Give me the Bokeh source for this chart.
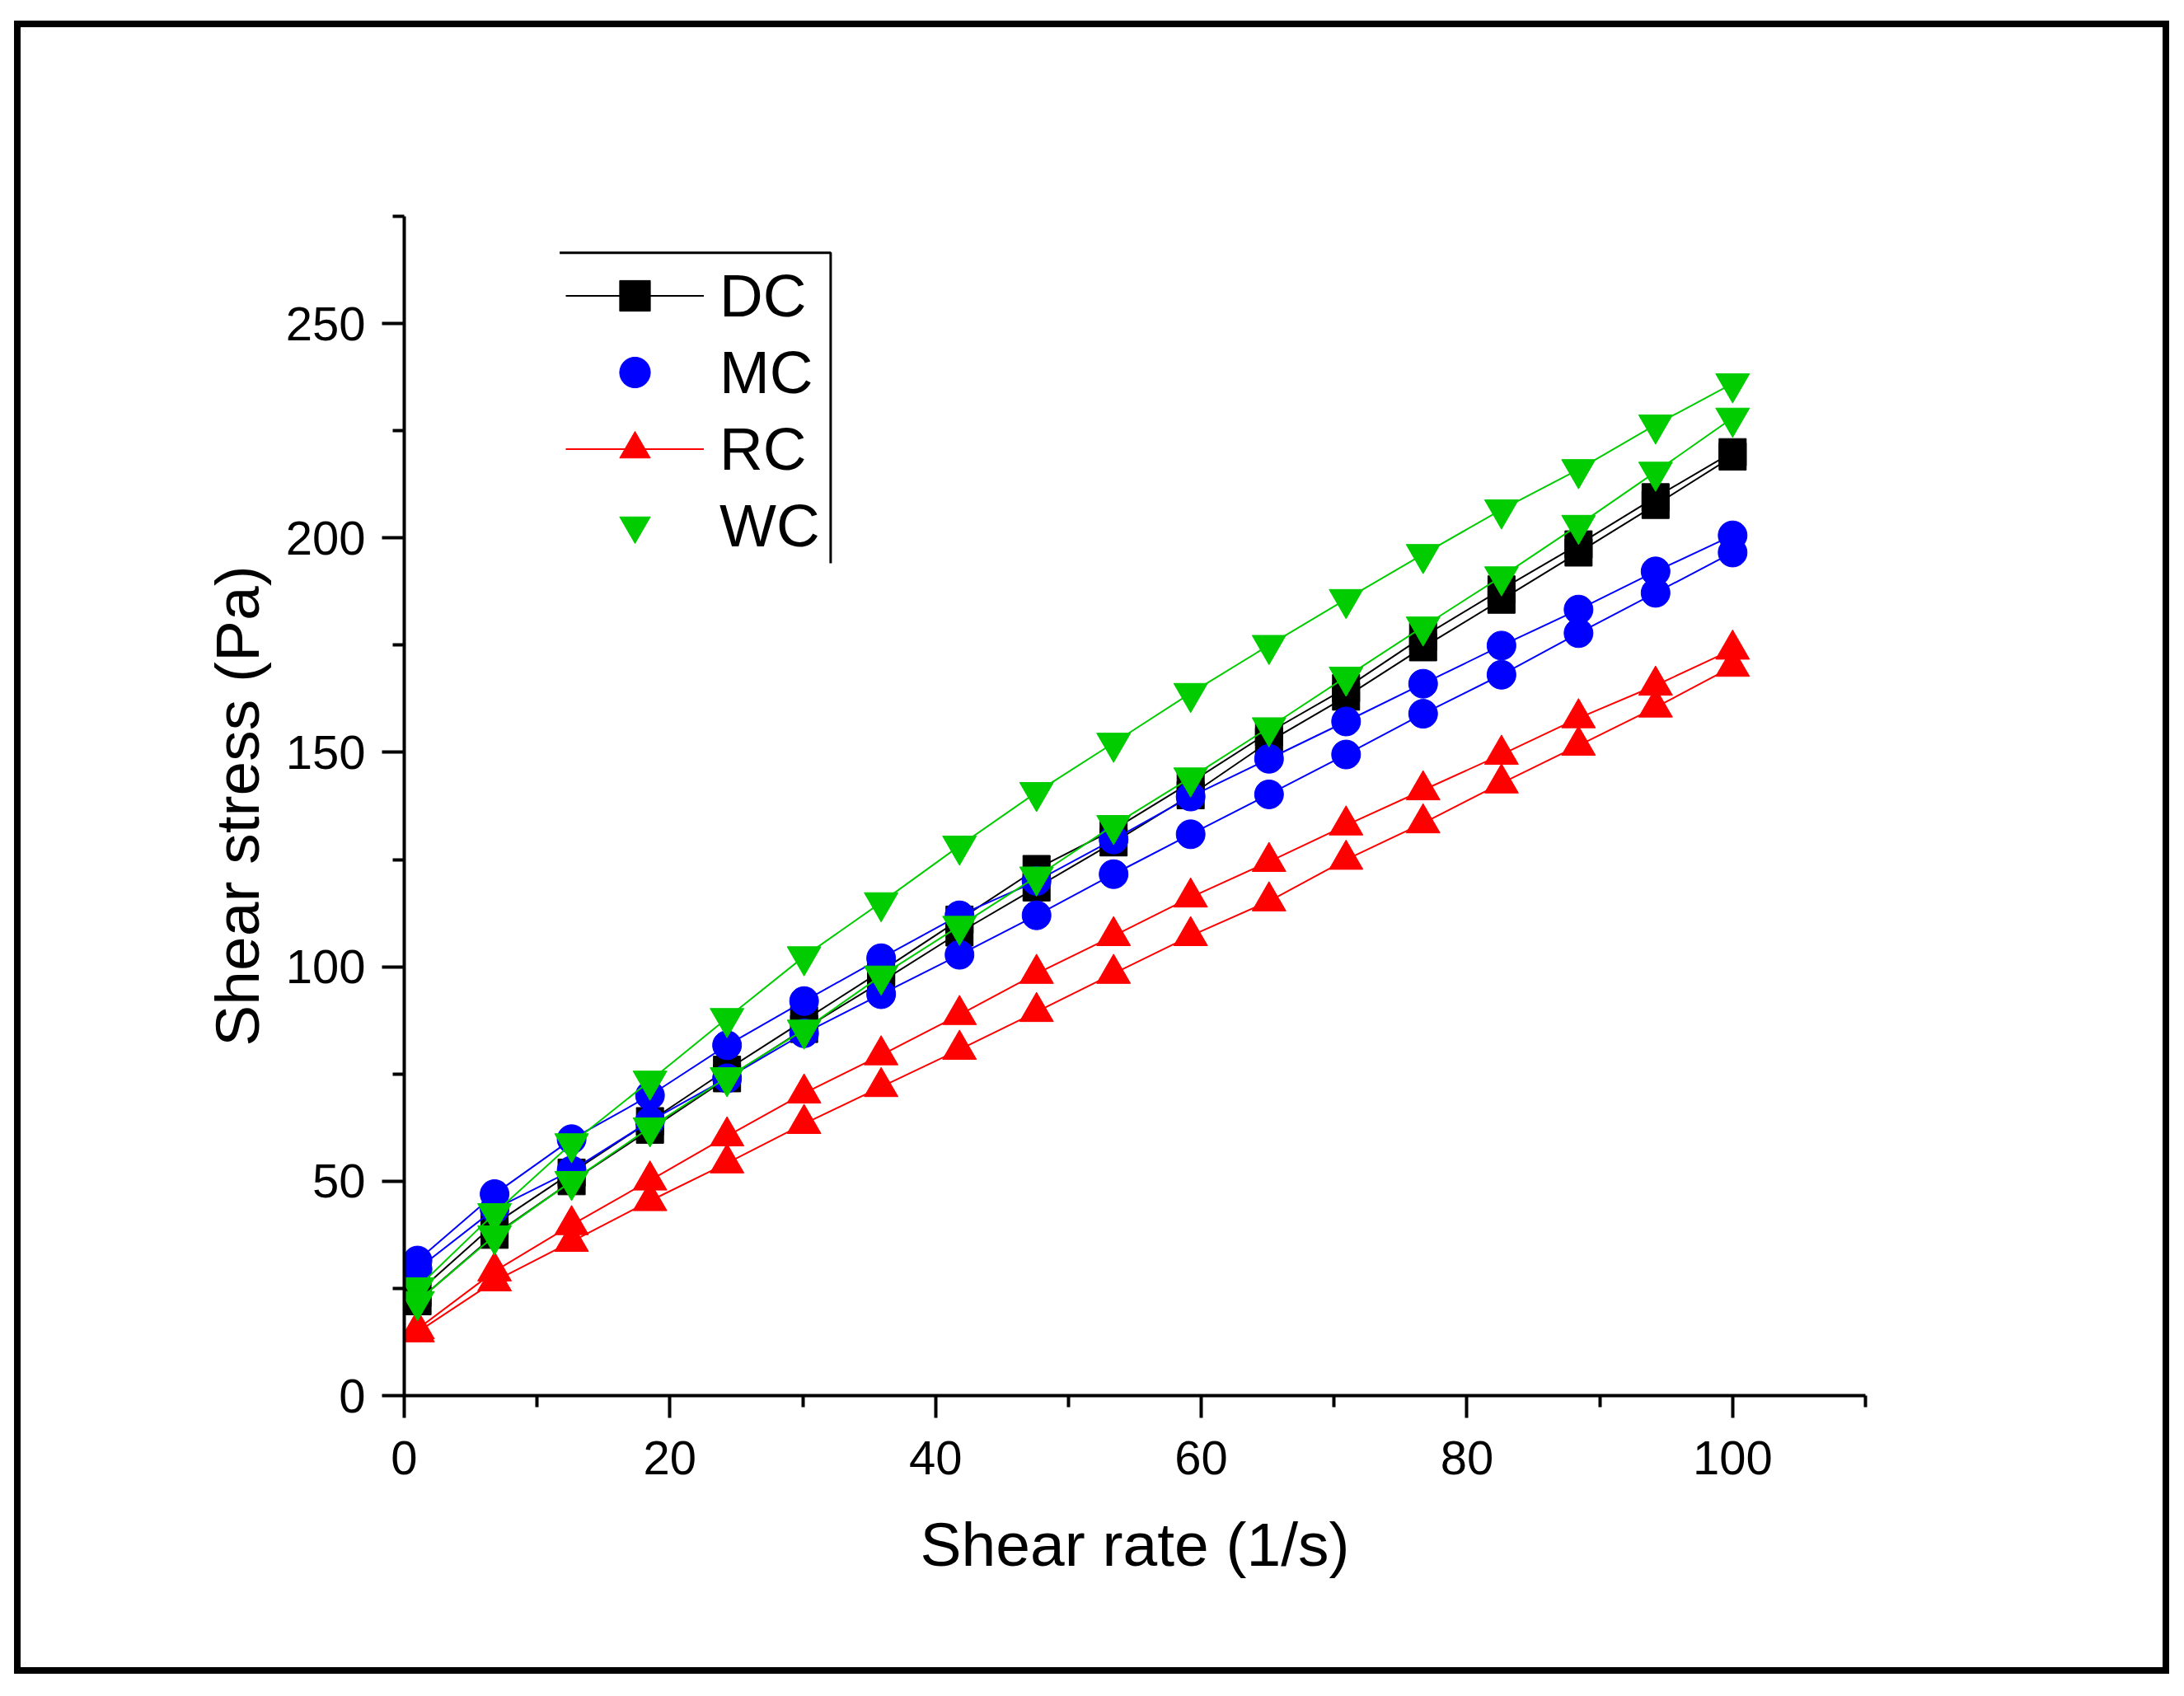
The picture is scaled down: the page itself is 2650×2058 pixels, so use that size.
from bokeh.plotting import figure
from bokeh.models import Range1d, FixedTicker, Legend, LegendItem
from bokeh.embed import file_html
from bokeh.resources import INLINE

# ---- data ----
shear_rate = [1, 6.8, 12.6, 18.5, 24.3, 30.1, 35.9, 41.8, 47.6, 53.4,
              59.2, 65.1, 70.9, 76.7, 82.6, 88.4, 94.2, 100]

dc_upper = [24, 40, 52, 64, 76, 87.5, 99, 111, 122.8, 132,
            143, 154.7, 165, 177, 188, 198.5, 209.5, 220]
dc_lower = [22, 37.5, 50, 62, 74, 85.5, 96.5, 108, 118.5, 129,
            140, 152.5, 163, 174.5, 185.6, 196.6, 207.7, 219]

mc_upper = [31.5, 47, 59.8, 70, 81.7, 92, 102, 112, 120, 129.7,
            139.7, 148.5, 157.2, 166, 174.9, 183.3, 192.2, 200.6]
mc_lower = [29.5, 43.5, 52.5, 64, 74, 84.5, 93.6, 102.8, 112, 121.6,
            130.9, 140.2, 149.5, 159, 168.1, 177.8, 187.2, 196.6]

rc_upper = [15.5, 29, 39.8, 50.2, 60.5, 70.5, 79.4, 88.8, 98.4, 107.2,
            116.2, 124.5, 133, 141.2, 149.5, 158, 165.6, 174]
rc_lower = [14.8, 26.7, 35.9, 45.4, 54.2, 63.4, 72, 80.7, 89.5, 98.4,
            107.2, 115.3, 125, 133.5, 142.8, 151.6, 160.5, 170]

wc_upper = [25.2, 42.5, 58.8, 73.4, 88, 102.4, 115, 128.2, 140.7, 152.2,
            163.8, 175, 185.7, 196.2, 206.6, 216, 226.4, 236]
wc_lower = [22, 37.3, 50, 62.5, 74.2, 85.3, 97.9, 109.5, 121, 133,
            144.1, 155.8, 167.6, 179.3, 191, 203, 215.4, 228]

x_ticks = [0, 20, 40, 60, 80, 100]
x_minor = [10, 30, 50, 70, 90, 110]
y_ticks = [0, 50, 100, 150, 200, 250]
y_minor = [25, 75, 125, 175, 225, 275]

FONT = "Liberation Sans"

p = figure(width=2599, height=1990, output_backend="svg", toolbar_location=None,
           x_range=Range1d(0, 110), y_range=Range1d(0, 275),
           min_border_left=465, min_border_right=361,
           min_border_top=229, min_border_bottom=330)
p.margin = (33, 0, 0, 25)
p.styles = {"outline": "8px solid black", "outline-offset": "0px"}
p.background_fill_color = "white"
p.border_fill_color = "white"
p.outline_line_color = None
p.xgrid.visible = False
p.ygrid.visible = False

p.xaxis.ticker = FixedTicker(ticks=x_ticks, minor_ticks=x_minor)
p.yaxis.ticker = FixedTicker(ticks=y_ticks, minor_ticks=y_minor)
for ax in (p.xaxis, p.yaxis):
    ax.axis_line_width = 4
    ax.axis_line_color = "black"
    ax.major_tick_line_width = 4
    ax.minor_tick_line_width = 4
    ax.major_tick_out = 27
    ax.major_tick_in = 0
    ax.minor_tick_out = 14
    ax.minor_tick_in = 0
    ax.major_label_text_font = FONT
    ax.major_label_text_font_size = "58px"
    ax.major_label_text_color = "black"
    ax.axis_label_text_font = FONT
    ax.axis_label_text_font_size = "75px"
    ax.axis_label_text_font_style = "normal"
    ax.axis_label_text_color = "black"
p.xaxis.axis_label = "Shear rate (1/s)"
p.yaxis.axis_label = "Shear stress (Pa)"
p.xaxis.major_label_standoff = 28
p.yaxis.major_label_standoff = 20
p.xaxis.axis_label_standoff = 40
p.yaxis.axis_label_standoff = 14

LW = 2
series = [
    ("DC", dc_upper, dc_lower, "black", "square", 33),
    ("MC", mc_upper, mc_lower, "#0000FF", "circle", 35),
    ("RC", rc_upper, rc_lower, "#FF0000", "triangle", 41),
    ("WC", wc_upper, wc_lower, "#00CC00", "inverted_triangle", 41),
]
handles = {}
for name, up, lo, col, mk, sz in series:
    l1 = p.line(shear_rate, up, line_color=col, line_width=LW)
    p.line(shear_rate, lo, line_color=col, line_width=LW)
    s1 = p.scatter(shear_rate, up, marker=mk, size=sz, fill_color=col, line_color=col)
    p.scatter(shear_rate, lo, marker=mk, size=sz, fill_color=col, line_color=col)
    handles[name] = (l1, s1)

items = [
    LegendItem(label="DC", renderers=[handles["DC"][0], handles["DC"][1]]),
    LegendItem(label="MC", renderers=[handles["MC"][1]]),
    LegendItem(label="RC", renderers=[handles["RC"][0], handles["RC"][1]]),
    LegendItem(label="WC", renderers=[handles["WC"][1]]),
]
legend = Legend(items=items, location=(196, 1009), glyph_width=168, glyph_height=93,
                label_height=93, label_standoff=19, spacing=0, padding=0, margin=0,
                label_text_font=FONT, label_text_font_size="73px",
                label_text_color="black", border_line_alpha=0,
                background_fill_alpha=0)
p.add_layout(legend)

# partial legend frame (top and right edges)
p.line([11.7, 32.1, 32.1], [266.5, 266.5, 194.1], line_color="black", line_width=3)

open("out.html", "w").write(file_html(p, INLINE))
